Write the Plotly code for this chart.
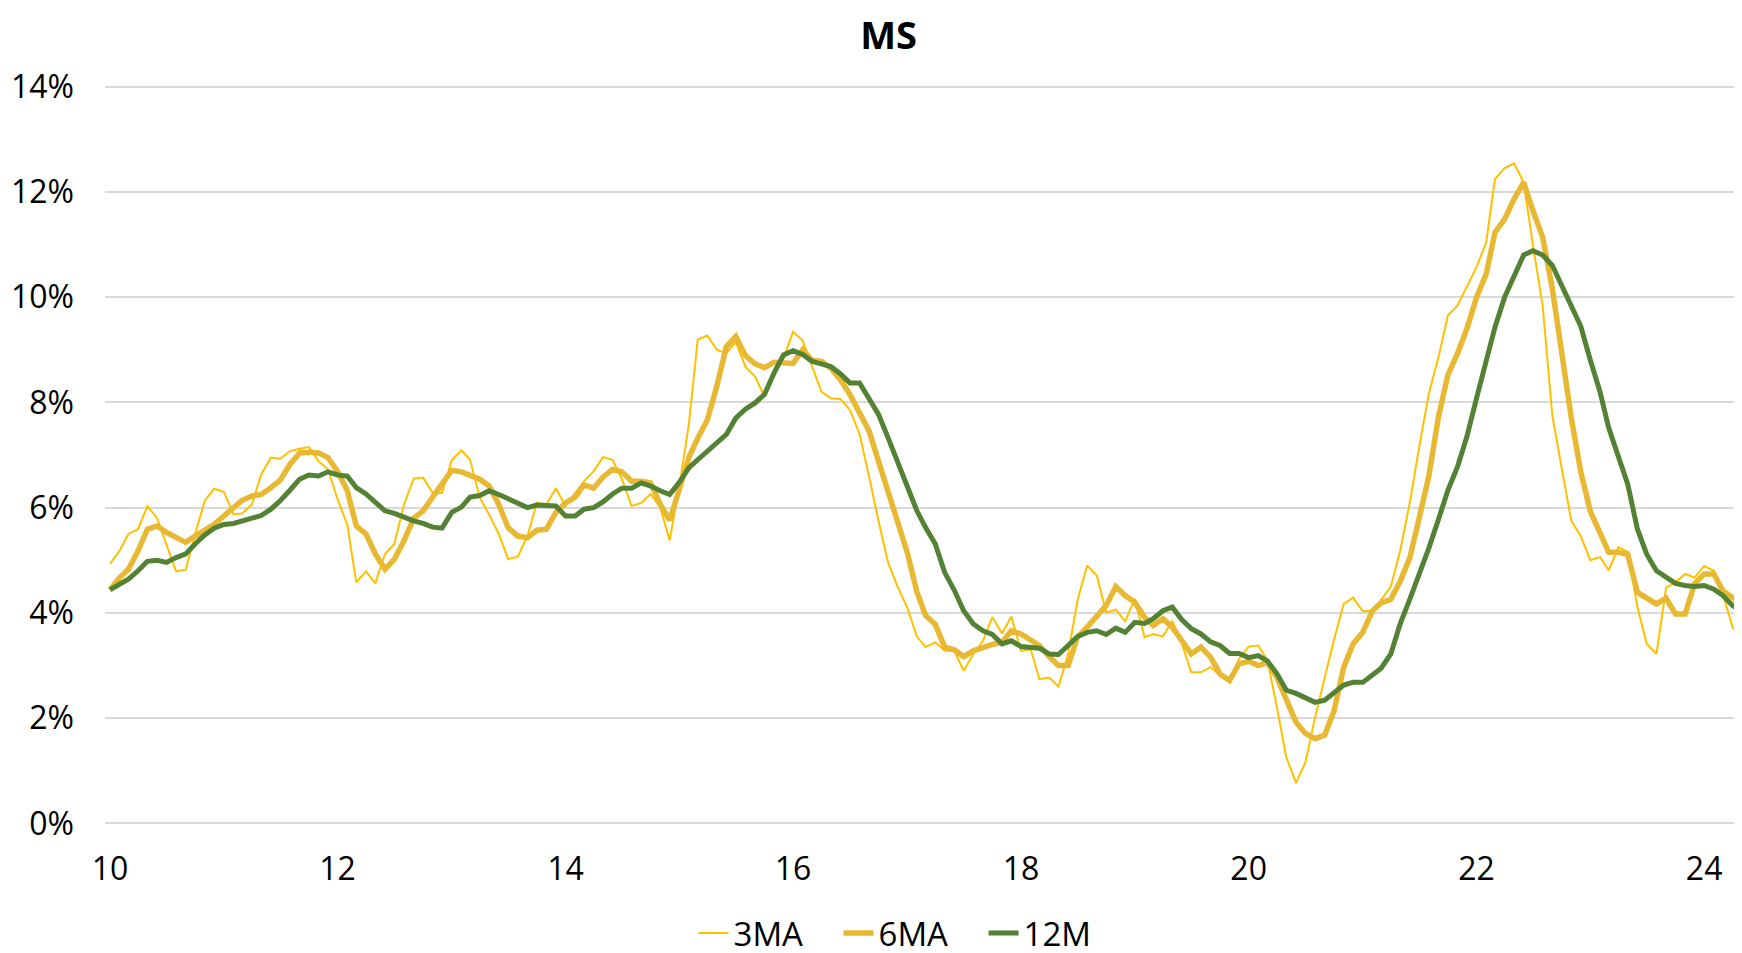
import pandas as pd
import plotly.graph_objects as go

# Monthly observations, Jan 2010 onward (values in %)
dates = pd.date_range("2010-01-01", periods=173, freq="MS")

ma3 = [4.93, 5.18, 5.50, 5.59, 6.03, 5.80, 5.30, 4.79, 4.82, 5.50, 6.13, 6.36, 6.30, 5.87, 5.89, 6.06,
       6.63, 6.95, 6.93, 7.07, 7.12, 7.15, 6.88, 6.73, 6.16, 5.68, 4.58, 4.79, 4.56, 5.12, 5.31, 6.06,
       6.55, 6.57, 6.28, 6.28, 6.90, 7.09, 6.91, 6.19, 5.87, 5.50, 5.02, 5.07, 5.46, 6.09, 6.06, 6.37,
       6.03, 6.28, 6.50, 6.69, 6.96, 6.91, 6.54, 6.03, 6.09, 6.26, 6.00, 5.38, 6.40, 7.60, 9.19, 9.27,
       9.00, 8.93, 9.15, 8.68, 8.49, 8.11, 8.62, 8.84, 9.34, 9.17, 8.71, 8.20, 8.08, 8.06, 7.86, 7.40,
       6.58, 5.74, 4.95, 4.50, 4.10, 3.55, 3.35, 3.44, 3.28, 3.28, 2.90, 3.22, 3.47, 3.92, 3.61, 3.93,
       3.28, 3.31, 2.74, 2.77, 2.60, 3.22, 4.23, 4.90, 4.71, 4.01, 4.06, 3.84, 4.27, 3.54, 3.60, 3.55,
       3.85, 3.41, 2.87, 2.87, 2.97, 2.81, 2.68, 3.12, 3.36, 3.38, 3.10, 2.20, 1.25, 0.77, 1.16, 2.01,
       2.77, 3.50, 4.17, 4.29, 4.03, 4.04, 4.25, 4.50, 5.18, 6.10, 7.15, 8.17, 8.86, 9.65, 9.84, 10.19,
       10.57, 11.04, 12.24, 12.45, 12.54, 12.18, 10.98, 9.84, 7.75, 6.75, 5.75, 5.46, 5.00, 5.06, 4.81, 5.25,
       5.16, 4.11, 3.41, 3.22, 4.48, 4.58, 4.74, 4.67, 4.89, 4.80, 4.36, 3.73, 3.47]

ma6 = [4.44, 4.67, 4.83, 5.18, 5.59, 5.65, 5.53, 5.42, 5.34, 5.46, 5.57, 5.68, 5.84, 6.00, 6.14, 6.22,
       6.25, 6.38, 6.52, 6.82, 7.04, 7.05, 7.04, 6.95, 6.69, 6.32, 5.65, 5.50, 5.12, 4.83, 5.02, 5.37,
       5.80, 5.94, 6.19, 6.44, 6.71, 6.68, 6.60, 6.54, 6.41, 6.06, 5.62, 5.46, 5.43, 5.57, 5.59, 5.91,
       6.09, 6.20, 6.43, 6.37, 6.58, 6.73, 6.68, 6.50, 6.50, 6.47, 6.06, 5.76, 6.35, 6.96, 7.32, 7.67,
       8.30, 9.06, 9.25, 8.89, 8.73, 8.66, 8.76, 8.74, 8.74, 9.00, 8.80, 8.78, 8.65, 8.43, 8.15, 7.80,
       7.45, 6.88, 6.32, 5.78, 5.15, 4.40, 3.95, 3.78, 3.35, 3.30, 3.17, 3.28, 3.35, 3.40, 3.44, 3.66,
       3.60, 3.47, 3.38, 3.17, 3.00, 3.00, 3.54, 3.73, 3.95, 4.14, 4.50, 4.33, 4.20, 3.92, 3.76, 3.89,
       3.73, 3.47, 3.22, 3.35, 3.16, 2.84, 2.72, 3.03, 3.08, 3.00, 3.06, 2.77, 2.33, 1.92, 1.71, 1.61,
       1.68, 2.14, 2.97, 3.41, 3.63, 4.04, 4.19, 4.26, 4.60, 5.05, 5.80, 6.60, 7.73, 8.52, 8.93, 9.40,
       10.00, 10.44, 11.23, 11.48, 11.86, 12.18, 11.64, 11.14, 10.16, 8.90, 7.70, 6.69, 5.93, 5.52, 5.15, 5.15,
       5.11, 4.39, 4.28, 4.17, 4.28, 3.98, 3.98, 4.55, 4.74, 4.74, 4.42, 4.30, 4.17]

m12 = [4.44, 4.55, 4.64, 4.80, 4.98, 5.00, 4.96, 5.05, 5.12, 5.31, 5.48, 5.61, 5.68, 5.70, 5.75, 5.82,
       5.85, 5.97, 6.13, 6.33, 6.54, 6.62, 6.60, 6.68, 6.62, 6.60, 6.38, 6.26, 6.09, 5.94, 5.89, 5.81,
       5.75, 5.70, 5.63, 5.61, 5.91, 6.01, 6.20, 6.23, 6.32, 6.25, 6.16, 6.08, 6.00, 6.05, 6.03, 6.03,
       5.84, 5.84, 5.97, 6.00, 6.11, 6.26, 6.37, 6.37, 6.47, 6.41, 6.32, 6.25, 6.48, 6.76, 6.91, 7.07,
       7.20, 7.39, 7.70, 7.87, 7.99, 8.15, 8.56, 8.90, 8.98, 8.91, 8.78, 8.73, 8.68, 8.54, 8.37, 8.37,
       8.08, 7.77, 7.32, 6.85, 6.38, 5.94, 5.62, 5.31, 4.77, 4.43, 4.04, 3.79, 3.66, 3.59, 3.41, 3.47,
       3.36, 3.35, 3.33, 3.22, 3.21, 3.38, 3.55, 3.63, 3.66, 3.59, 3.71, 3.63, 3.82, 3.80, 3.89, 4.04,
       4.11, 3.87, 3.70, 3.60, 3.45, 3.38, 3.23, 3.23, 3.15, 3.19, 3.09, 2.84, 2.53, 2.47, 2.39, 2.30,
       2.34, 2.49, 2.63, 2.68, 2.68, 2.82, 2.95, 3.22, 3.79, 4.26, 4.73, 5.23, 5.78, 6.33, 6.78, 7.35,
       8.08, 8.77, 9.43, 10.00, 10.41, 10.80, 10.88, 10.80, 10.60, 10.22, 9.87, 9.45, 8.80, 8.20, 7.51, 6.97,
       6.44, 5.59, 5.11, 4.80, 4.67, 4.56, 4.52, 4.50, 4.52, 4.45, 4.33, 4.14, 4.04]

y_ticks = [0, 2, 4, 6, 8, 10, 12, 14]
y_labels = [f"{v}%" for v in y_ticks]
x_ticks = pd.date_range("2010-01-01", "2024-01-01", freq="24MS")

FONT = "'Open Sans', Lato, sans-serif"

fig = go.Figure()
fig.add_trace(go.Scatter(x=dates, y=ma3, name="3MA", mode="lines",
                         line=dict(color="#FFC000", width=2)))
fig.add_trace(go.Scatter(x=dates, y=ma6, name="6MA", mode="lines",
                         line=dict(color="#E8B832", width=5.5)))
fig.add_trace(go.Scatter(x=dates, y=m12, name="12M", mode="lines",
                         line=dict(color="#548235", width=5)))

fig.update_layout(
    width=1742, height=953,
    paper_bgcolor="white", plot_bgcolor="white",
    margin=dict(l=97, r=0, t=77, b=133),
    font=dict(family=FONT, size=32, color="#000000"),
    title=dict(text="<b>MS</b>", x=0.5055, xanchor="center", y=0.9712, yanchor="middle",
               font=dict(family=FONT, size=38, color="#000000")),
    showlegend=True,
    legend=dict(orientation="h", x=0.49, xanchor="center", y=-0.1464, yanchor="middle",
                font=dict(family=FONT, size=33, color="#000000"),
                entrywidth=100, entrywidthmode="pixels",
                tracegroupgap=0, bgcolor="rgba(0,0,0,0)"),
    hovermode=False,
)

fig.update_xaxes(
    type="date",
    range=["2009-12-16", "2024-05-27"],
    tickvals=x_ticks,
    tickformat="%y",
    showgrid=False, zeroline=False, showline=False, ticks="",
    automargin=False,
    ticklabelstandoff=22,
    tickfont=dict(family=FONT, size=32, color="#000000"),
)
fig.update_yaxes(
    range=[-0.03, 14.03],
    tickvals=y_ticks, ticktext=y_labels,
    showgrid=True, gridcolor="#D9D9D9", gridwidth=2,
    zeroline=False, showline=False, ticks="",
    automargin=False,
    ticklabelstandoff=30,
    tickfont=dict(family=FONT, size=32, color="#000000"),
)

fig.write_html("out.html")
